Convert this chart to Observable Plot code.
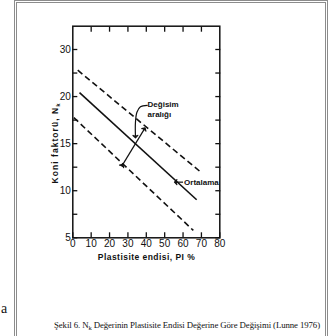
<!DOCTYPE html>
<html><head><meta charset="utf-8">
<script src="https://cdn.jsdelivr.net/npm/d3@7"></script>
<script src="https://cdn.jsdelivr.net/npm/@observablehq/plot@0.6"></script>
<style>
body{margin:0;background:#fff;}
#wrap{position:relative;width:331px;height:336px;overflow:hidden;background:#fff;}
#box{position:absolute;left:14px;top:0px;width:308px;height:345px;border:3px double #8c8c8c;}
#chart{position:absolute;left:0;top:0;}
#cap{position:absolute;left:54px;top:320px;font-family:"Liberation Serif",serif;font-size:8.8px;line-height:11px;white-space:nowrap;color:#111;}
#cap sub{font-size:6.5px;vertical-align:-2px;line-height:0;}
#a{position:absolute;left:1px;top:302px;font-family:"Liberation Serif",serif;font-size:14px;line-height:14px;color:#111;}
</style></head><body>
<div id="wrap"><div id="box"></div><div id="chart"></div><div id="a">a</div>
<div id="cap">Şekil 6. N<sub>k</sub> Değerinin Plastisite Endisi Değerine Göre Değişimi (Lunne 1976)</div>
</div>
<script>
// Series (lines): plasticity index PI % vs cone factor Nk
const series  = ["Üst sınır", "Ortalama", "Alt sınır"];
const piStart = [2.7, 3.65, 0.55];
const nkStart = [25.6, 20.85, 17.77];
const piEnd   = [69.2, 67.4, 65.6];
const nkEnd   = [12.05, 9.04, 5.78];

// Axis ticks
const xTicks      = [0, 10, 20, 30, 40, 50, 60, 70, 80];
const yTickLabels = [5, 10, 15, 20, 30];
const yMinorTicks = [7.5, 12.5, 17.5, 25];

// Annotations (data units)
const spreadLabel = ["Değisim", "aralığı"];
const spreadLabelPi = [40.7, 40.7];
const spreadLabelNk = [19.18, 18.12];
const leaderPi = [40.5, 36.8, 34.9, 34.1, 34.1];
const leaderNk = [19.07, 18.91, 18.33, 17.27, 15.75];
const rangeArrowPi = [39.0, 26.9];
const rangeArrowNk = [16.57, 12.69];
const meanLabel = "Ortalama";
const meanLabelPi = 60;
const meanLabelNk = 10.91;
const meanArrowPi = [60, 56.0];

const xLabel = "Plastisite endisi, PI %";
const yLabel = "Koni faktorü, N_k";

const rows = series.map((s, i) => ({series: s, x1: piStart[i], y1: nkStart[i], x2: piEnd[i], y2: nkEnd[i]}));
const leader = leaderPi.map((x, i) => ({x, y: leaderNk[i]}));

const font = "'Liberation Sans', Arial, sans-serif";

const plot = Plot.plot({
  width: 331,
  height: 275,
  marginLeft: 72.3,
  marginRight: 111.7,
  marginTop: 25.7,
  marginBottom: 37.7,
  style: {fontFamily: font, fontSize: "10px", color: "#111", background: "transparent"},
  x: {domain: [0, 80]},
  y: {type: "linear", domain: [5, 10, 15, 20, 30], insetTop: 23.3},
  marks: [
    Plot.frame({strokeWidth: 1.5, stroke: "#111"}),
    Plot.axisX(xTicks, {anchor: "bottom", tickSize: -5, tickPadding: 7, strokeWidth: 1.3, label: null, fontSize: 10}),
    Plot.axisX(xTicks.slice(1, -1), {anchor: "top", tickSize: -5, strokeWidth: 1.3, tickFormat: () => "", label: null}),
    Plot.axisY(yTickLabels, {anchor: "left", tickSize: -5, tickPadding: 7, strokeWidth: 1.3, label: null, fontSize: 10}),
    Plot.axisY(yMinorTicks, {anchor: "left", tickSize: -5, strokeWidth: 1.3, tickFormat: () => "", label: null}),
    Plot.axisY([...yTickLabels, ...yMinorTicks], {anchor: "right", tickSize: -5, strokeWidth: 1.3, tickFormat: () => "", label: null}),
    Plot.link(rows.filter(d => d.series !== "Ortalama"), {x1: "x1", y1: "y1", x2: "x2", y2: "y2", stroke: "#111", strokeWidth: 1.6, strokeDasharray: "6,3.5"}),
    Plot.link(rows.filter(d => d.series === "Ortalama"), {x1: "x1", y1: "y1", x2: "x2", y2: "y2", stroke: "#111", strokeWidth: 1.6}),
    Plot.line(leader, {x: "x", y: "y", curve: "catmull-rom", stroke: "#111", strokeWidth: 1.2, markerEnd: "arrow"}),
    Plot.link([0], {x1: rangeArrowPi[1], y1: rangeArrowNk[1], x2: rangeArrowPi[0], y2: rangeArrowNk[0], stroke: "#111", strokeWidth: 1.2, markerStart: "arrow", markerEnd: "arrow"}),
    Plot.link([0], {x1: meanArrowPi[0], y1: meanLabelNk, x2: meanArrowPi[1], y2: meanLabelNk, stroke: "#111", strokeWidth: 1.2, markerEnd: "arrow"}),
    Plot.text(spreadLabel, {x: (d, i) => spreadLabelPi[i], y: (d, i) => spreadLabelNk[i], text: d => d, textAnchor: "start", fontSize: 8, fontWeight: "bold"}),
    Plot.text([meanLabel], {x: meanLabelPi, y: meanLabelNk, text: d => d, textAnchor: "start", dx: 1, fontSize: 8, fontWeight: "bold"}),
    Plot.text([xLabel], {frameAnchor: "bottom", textAnchor: "middle", dy: 21.7, text: d => d, fontSize: 8.5, fontWeight: "bold"}),
    Plot.text([yLabel], {frameAnchor: "left", textAnchor: "middle", dx: -17.3, dy: 11.5, rotate: -90, text: d => d, fontSize: 8.5, fontWeight: "bold"})
  ]
});

// widen axis titles like the reference's spaced lettering
d3.select(plot).selectAll("text").each(function () {
  const t = this.textContent;
  if (t === xLabel) d3.select(this).attr("textLength", 97).attr("lengthAdjust", "spacing");
  if (t === yLabel) d3.select(this).attr("textLength", 80).attr("lengthAdjust", "spacing");
});
// subscript k
d3.select(plot).selectAll("text").each(function () {
  const t = this.textContent;
  if (t.includes("N_k")) {
    const [a, b] = t.split("N_k");
    const sel = d3.select(this);
    sel.text(null);
    sel.append("tspan").text(a + "N");
    sel.append("tspan").attr("font-size", "6").attr("dy", "0.3em").text("k");
    if (b) sel.append("tspan").attr("dy", "-0.3em").text(b);
  }
});
// filled drafting-style arrowheads
d3.select(plot).selectAll("marker").attr("fill", "#111");

document.getElementById("chart").appendChild(plot);

// fit caption width to the reference (about 268 px)
const cap = document.getElementById("cap");
const w = cap.getBoundingClientRect().width;
const nChars = cap.textContent.length;
cap.style.letterSpacing = ((266 - w) / nChars).toFixed(3) + "px";
</script>
</body></html>
